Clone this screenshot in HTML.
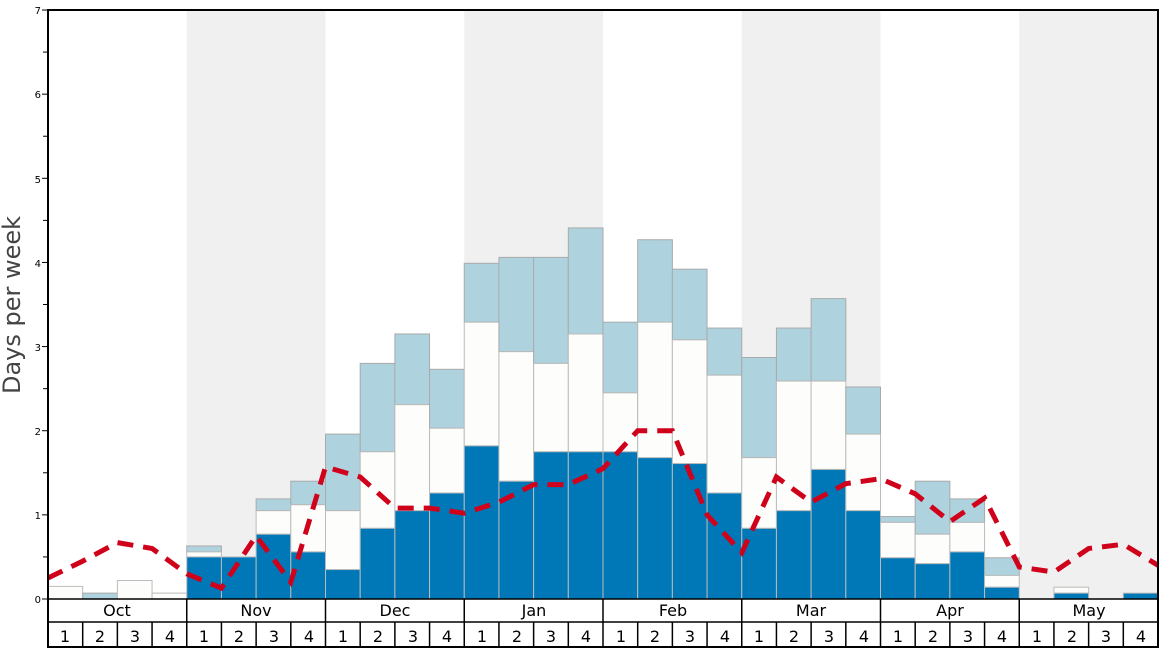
<!DOCTYPE html>
<html><head><meta charset="utf-8"><style>
body{margin:0;background:#fff;width:1168px;height:648px;overflow:hidden}
svg{display:block;font-family:"DejaVu Sans","Liberation Sans",sans-serif}
</style></head><body>
<svg id="s" width="1168" height="648" viewBox="0 0 1168 648">
<g id="bg"></g><g id="bars"></g>
<polyline id="line" fill="none" stroke="#d0021b" stroke-width="5" stroke-dasharray="16,10" points=""/>
<g id="grid"></g>
<rect x="48" y="10" width="1110" height="637" fill="none" stroke="#000" stroke-width="2"/>
<g font-size="10" fill="#000" text-anchor="end">
<text x="41" y="603">0</text><text x="41" y="519">1</text><text x="41" y="435">2</text><text x="41" y="351">3</text><text x="41" y="267">4</text><text x="41" y="183">5</text><text x="41" y="98">6</text><text x="41" y="14">7</text>
</g>
<text transform="translate(20,305) rotate(-90)" font-size="24" fill="#444" text-anchor="middle">Days per week</text>
<g font-size="16" fill="#000" text-anchor="middle">
<text x="117" y="616">Oct</text><text x="256" y="616">Nov</text><text x="395" y="616">Dec</text><text x="534" y="616">Jan</text><text x="673" y="616">Feb</text><text x="811" y="616">Mar</text><text x="950" y="616">Apr</text><text x="1089" y="616">May</text>
</g>
<g id="wk" font-size="16" fill="#000" text-anchor="middle">
<text x="65" y="642">1</text><text x="100" y="642">2</text><text x="135" y="642">3</text><text x="170" y="642">4</text>
<text x="204" y="642">1</text><text x="239" y="642">2</text><text x="274" y="642">3</text><text x="309" y="642">4</text>
<text x="343" y="642">1</text><text x="378" y="642">2</text><text x="413" y="642">3</text><text x="447" y="642">4</text>
<text x="482" y="642">1</text><text x="517" y="642">2</text><text x="551" y="642">3</text><text x="586" y="642">4</text>
<text x="621" y="642">1</text><text x="655" y="642">2</text><text x="690" y="642">3</text><text x="725" y="642">4</text>
<text x="759" y="642">1</text><text x="794" y="642">2</text><text x="829" y="642">3</text><text x="864" y="642">4</text>
<text x="898" y="642">1</text><text x="933" y="642">2</text><text x="968" y="642">3</text><text x="1002" y="642">4</text>
<text x="1037" y="642">1</text><text x="1072" y="642">2</text><text x="1106" y="642">3</text><text x="1141" y="642">4</text>
</g>
</svg>
<script>
var NS="http://www.w3.org/2000/svg",X0=48,W=1110/32,Y0=599,U=84.14;
function el(p,t,a){var e=document.createElementNS(NS,t);for(var k in a)e.setAttribute(k,a[k]);document.getElementById(p).appendChild(e);return e;}
for(var m=1;m<8;m+=2)el("bg","rect",{x:X0+m*4*W,y:10,width:4*W,height:589,fill:"#f0f0f0"});
var d=[[0,.15,.15],[0,0,.07],[0,.22,.22],[0,.07,.07],[.5,.56,.63],[.5,.5,.5],[.77,1.05,1.19],[.56,1.12,1.4],
[.35,1.05,1.96],[.84,1.75,2.8],[1.05,2.31,3.15],[1.26,2.03,2.73],[1.82,3.29,3.99],[1.4,2.94,4.06],[1.75,2.8,4.06],[1.75,3.15,4.41],
[1.75,2.45,3.29],[1.68,3.29,4.27],[1.61,3.08,3.92],[1.26,2.66,3.22],[.84,1.68,2.87],[1.05,2.59,3.22],[1.54,2.59,3.57],[1.05,1.96,2.52],
[.49,.91,.98],[.42,.77,1.4],[.56,.91,1.19],[.14,.28,.49],[0,0,0],[.07,.14,.14],[0,0,0],[.07,.07,.07]];
d.forEach(function(v,i){var x=X0+i*W;
 if(v[2]>v[1])el("bars","rect",{x:x,y:Y0-v[2]*U,width:W,height:(v[2]-v[1])*U,fill:"#aed3df",stroke:"#aaa","stroke-width":1});
 if(v[1]>v[0])el("bars","rect",{x:x,y:Y0-v[1]*U,width:W,height:(v[1]-v[0])*U,fill:"#fdfdfb",stroke:"#bbb","stroke-width":1});
 if(v[0]>0)el("bars","rect",{x:x,y:Y0-v[0]*U,width:W,height:v[0]*U,fill:"#0077b6",stroke:"#bbb","stroke-width":1});
});
var L=[.25,.45,.67,.6,.3,.13,.75,.2,1.57,1.45,1.08,1.08,1.02,1.15,1.36,1.36,1.55,2,2,1,.55,1.45,1.15,1.37,1.43,1.25,.92,1.2,.38,.32,.6,.65,.4];
document.getElementById("line").setAttribute("points",L.map(function(v,i){return (X0+i*W).toFixed(1)+","+(Y0-v*U).toFixed(1)}).join(" "));
for(var k=0;k<=14;k++){var y=Y0-k*U/2;el("grid","line",{x1:k%2?43:42,x2:48,y1:y,y2:y,stroke:"#000","stroke-width":1});}
el("grid","line",{x1:48,x2:1158,y1:599,y2:599,stroke:"#000","stroke-width":1.5});
el("grid","line",{x1:48,x2:1158,y1:622,y2:622,stroke:"#000","stroke-width":1.5});
for(var i=1;i<32;i++){var x=X0+i*W;el("grid","line",{x1:x,x2:x,y1:i%4?622:599,y2:647,stroke:"#000","stroke-width":1.5});}
</script>
</body></html>
